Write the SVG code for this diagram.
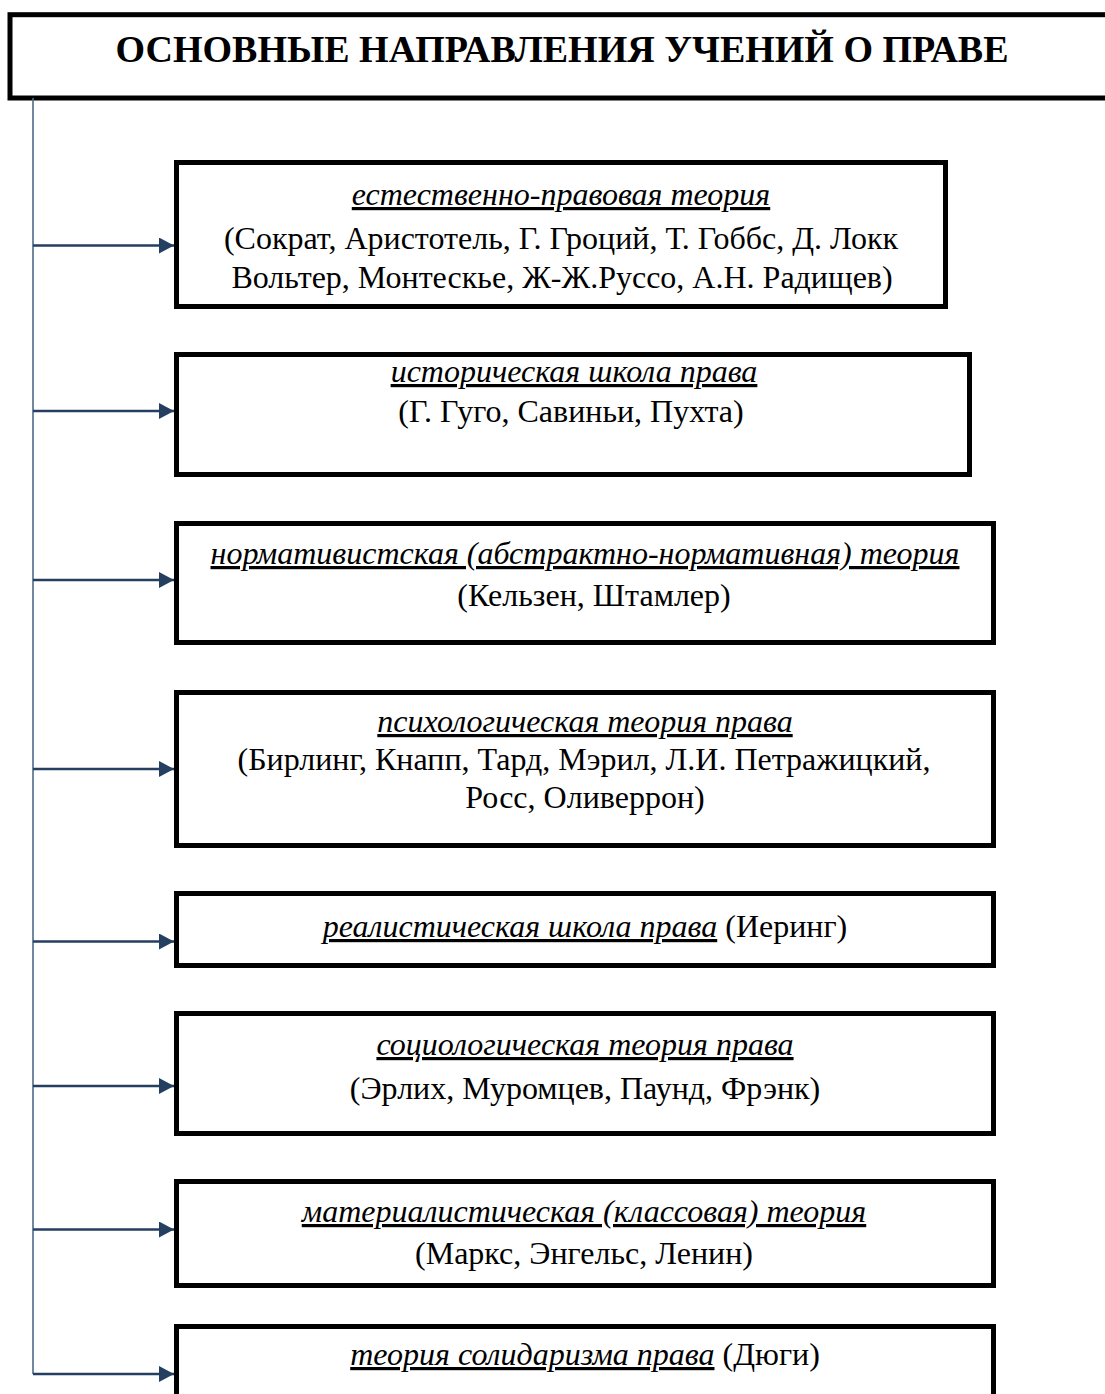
<svg xmlns="http://www.w3.org/2000/svg" width="1105" height="1394" viewBox="0 0 1105 1394">
<style>
.box{fill:#fff;stroke:#000;stroke-width:5}
.t{font-family:"Liberation Serif","Times New Roman",serif;font-size:32px;fill:#000;text-anchor:middle}
.h{font-style:italic;text-decoration:underline}
.title{font-family:"Liberation Serif","Times New Roman",serif;font-size:38px;font-weight:bold;fill:#000;text-anchor:middle}
.arr{stroke:#243f60;stroke-width:2.5;fill:none}
.trunk{stroke:#4f6a8c;stroke-width:1.6;fill:none}
</style>
<defs>
<marker id="ah" markerUnits="userSpaceOnUse" markerWidth="16" markerHeight="18" refX="15" refY="8" orient="auto">
<path d="M0,0 L15,8 L0,16 Z" fill="#243f60"/>
</marker>
</defs>
<rect width="1105" height="1394" fill="#fff"/>
<g id="title">
<rect class="box" x="10" y="14.7" width="1110" height="83.3"/>
<text class="title" x="562" y="62">ОСНОВНЫЕ НАПРАВЛЕНИЯ УЧЕНИЙ О ПРАВЕ</text>
</g>
<g id="connectors">
<line class="trunk" x1="33" y1="98" x2="33" y2="1374"/>
<line class="arr" x1="33" y1="245.5" x2="174" y2="245.5" marker-end="url(#ah)"/>
<line class="arr" x1="33" y1="411" x2="174" y2="411" marker-end="url(#ah)"/>
<line class="arr" x1="33" y1="580" x2="174" y2="580" marker-end="url(#ah)"/>
<line class="arr" x1="33" y1="769" x2="174" y2="769" marker-end="url(#ah)"/>
<line class="arr" x1="33" y1="941.5" x2="174" y2="941.5" marker-end="url(#ah)"/>
<line class="arr" x1="33" y1="1086" x2="174" y2="1086" marker-end="url(#ah)"/>
<line class="arr" x1="33" y1="1229.5" x2="174" y2="1229.5" marker-end="url(#ah)"/>
<line class="arr" x1="33" y1="1374" x2="174" y2="1374" marker-end="url(#ah)"/>
</g>
<g id="n1">
<rect class="box" x="176.5" y="162.5" width="769" height="144"/>
<text class="t h" x="561" y="205">естественно-правовая теория</text>
<text class="t" x="561" y="249">(Сократ, Аристотель, Г. Гроций, Т. Гоббс, Д. Локк</text>
<text class="t" x="562" y="288">Вольтер, Монтескье, Ж-Ж.Руссо, А.Н. Радищев)</text>
</g>
<g id="n2">
<rect class="box" x="176.5" y="354.5" width="793" height="120"/>
<text class="t h" x="574" y="382">историческая школа права</text>
<text class="t" x="571" y="422">(Г. Гуго, Савиньи, Пухта)</text>
</g>
<g id="n3">
<rect class="box" x="176.5" y="523.5" width="817" height="119"/>
<text class="t h" x="585" y="564">нормативистская (абстрактно-нормативная) теория</text>
<text class="t" x="594" y="606">(Кельзен, Штамлер)</text>
</g>
<g id="n4">
<rect class="box" x="176.5" y="692.5" width="817" height="153"/>
<text class="t h" x="585" y="732">психологическая теория права</text>
<text class="t" x="584" y="770">(Бирлинг, Кнапп, Тард, Мэрил, Л.И. Петражицкий,</text>
<text class="t" x="585" y="808">Росс, Оливеррон)</text>
</g>
<g id="n5">
<rect class="box" x="176.5" y="893.5" width="817" height="72"/>
<text class="t" x="585" y="937"><tspan class="h">реалистическая школа права</tspan> (Иеринг)</text>
</g>
<g id="n6">
<rect class="box" x="176.5" y="1013.5" width="817" height="120"/>
<text class="t h" x="585" y="1055">социологическая теория права</text>
<text class="t" x="585" y="1099">(Эрлих, Муромцев, Паунд, Фрэнк)</text>
</g>
<g id="n7">
<rect class="box" x="176.5" y="1181.5" width="817" height="104"/>
<text class="t h" x="584" y="1222">материалистическая (классовая) теория</text>
<text class="t" x="584" y="1264">(Маркс, Энгельс, Ленин)</text>
</g>
<g id="n8">
<rect class="box" x="176.5" y="1326.5" width="817" height="100"/>
<text class="t" x="585" y="1365"><tspan class="h">теория солидаризма права</tspan> (Дюги)</text>
</g>
</svg>
